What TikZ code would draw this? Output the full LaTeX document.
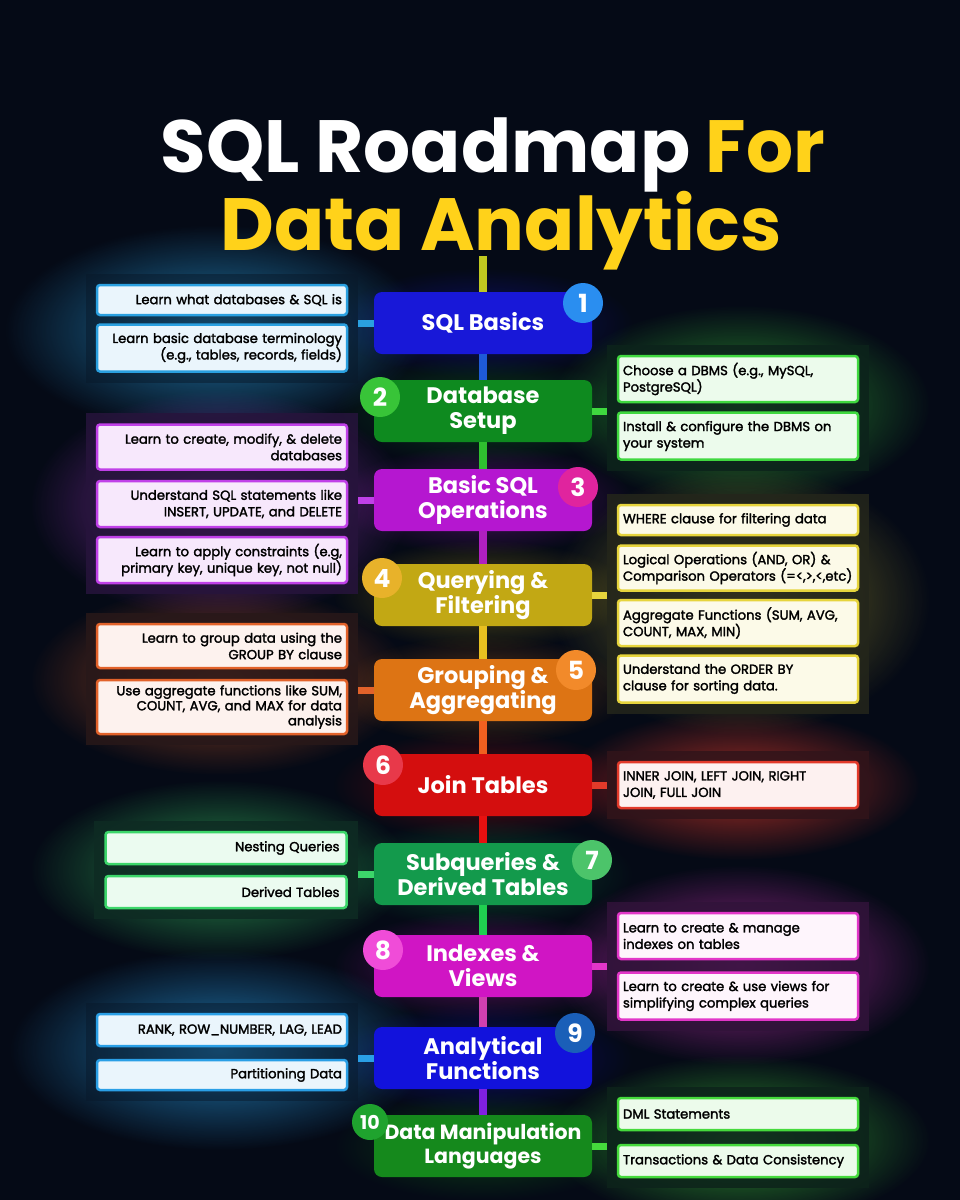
\documentclass[tikz,border=0pt]{standalone}
\usepackage{fontspec}
\setmainfont{Poppins}
\newfontfamily\sidefont{Poppins}[FakeBold=2]
\usetikzlibrary{positioning,fit,fadings,backgrounds}

% colours
\definecolor{bg}{HTML}{050A16}
\definecolor{ttl}{HTML}{FFD21A}
\definecolor{c1}{HTML}{1818D8}
\definecolor{c2}{HTML}{0E8A1F}
\definecolor{c3}{HTML}{B517D0}
\definecolor{c4}{HTML}{C2A814}
\definecolor{c5}{HTML}{DD7414}
\definecolor{c6}{HTML}{D40E0E}
\definecolor{c7}{HTML}{139A4C}
\definecolor{c8}{HTML}{D015C4}
\definecolor{c9}{HTML}{1212DC}
\definecolor{c10}{HTML}{15891C}
\definecolor{n1}{HTML}{2A8EF0}
\definecolor{n2}{HTML}{38C438}
\definecolor{n3}{HTML}{E0249E}
\definecolor{n4}{HTML}{E8B22A}
\definecolor{n5}{HTML}{F28A2A}
\definecolor{n6}{HTML}{E8394A}
\definecolor{n7}{HTML}{4CC46A}
\definecolor{n8}{HTML}{F04CD8}
\definecolor{n9}{HTML}{1A5FB8}
\definecolor{n10}{HTML}{1FA32E}
\definecolor{e1}{HTML}{2AA0E0}
\definecolor{e2}{HTML}{3FD83F}
\definecolor{e3}{HTML}{C040E8}
\definecolor{e4}{HTML}{E6D43C}
\definecolor{e5}{HTML}{E2622A}
\definecolor{e6}{HTML}{E23A2A}
\definecolor{e7}{HTML}{3CD66A}
\definecolor{e8}{HTML}{E236C8}
\definecolor{e9}{HTML}{2A9FE6}
\definecolor{e10}{HTML}{45DA3C}
\definecolor{s0}{HTML}{C0C820}
\definecolor{s1}{HTML}{1E5AD8}
\definecolor{s2}{HTML}{2FC02F}
\definecolor{s3}{HTML}{B020C0}
\definecolor{s4}{HTML}{E8C020}
\definecolor{s5}{HTML}{F06020}
\definecolor{s6}{HTML}{E81010}
\definecolor{s7}{HTML}{20D050}
\definecolor{s8}{HTML}{D040B0}
\definecolor{s9}{HTML}{8020E0}

\tikzfading[name=glowfade, inner color=transparent!10, outer color=transparent!100]

\tikzset{
  mainbox/.style={rounded corners=8pt, minimum width=218pt, minimum height=62pt,
    inner sep=0pt, text=white, align=center,
    font=\bfseries\fontsize{22.5}{25}\selectfont},
  numdot/.style={circle, minimum size=40pt, inner sep=0pt, text=white,
    font=\bfseries\fontsize{25}{25}\selectfont},
  sidebox/.style={rounded corners=3pt, line width=2.5pt, inner ysep=2pt,
    text=black, font=\sidefont\fontsize{13.2}{16.5}\selectfont},
  lbox/.style={sidebox, text width=240pt, inner xsep=5pt, align=right},
  rbox/.style={sidebox, text width=230pt, inner xsep=5pt, align=left},
  panel/.style={inner sep=10pt},
  spine/.style={line width=8pt},
  stub/.style={line width=7pt},
  glow/.style={path fading=glowfade}
}

\begin{document}
\begin{tikzpicture}[x=1pt,y=-1pt]
\useasboundingbox (0,0) rectangle (960,1200);
\begin{pgfonlayer}{background}
\fill[bg] (0,0) rectangle (960,1200);
% glows behind the groups
\fill[glow, e1, opacity=0.8] (215,330) ellipse (210 and 105);
\fill[glow, e2, opacity=0.7] (740,405) ellipse (190 and 100);
\fill[glow, e3, opacity=0.7] (220,505) ellipse (190 and 115);
\fill[glow, e4, opacity=0.55] (740,600) ellipse (190 and 135);
\fill[glow, e5, opacity=0.7] (220,680) ellipse (190 and 95);
\fill[glow, e6, opacity=0.8] (740,785) ellipse (180 and 75);
\fill[glow, e7, opacity=0.7] (220,870) ellipse (190 and 90);
\fill[glow, e8, opacity=0.75] (740,965) ellipse (190 and 100);
\fill[glow, e9, opacity=0.8] (220,1050) ellipse (210 and 100);
\fill[glow, e10, opacity=0.7] (740,1140) ellipse (190 and 85);
% glows round the steps
\foreach \yy/\cc in {323/c1,411/c2,500/c3,595/c4,690/c5,785/c6,874/c7,966/c8,1058/c9,1146/c10}
  \fill[glow, \cc, opacity=0.45] (483,\yy) ellipse (150 and 55);
\end{pgfonlayer}

% title
\node[anchor=base, text=white, font=\bfseries\fontsize{74}{80}\selectfont]
  (title1) at (493,172) {SQL Roadmap \textcolor{ttl}{For}};
\node[anchor=base, text=ttl, font=\bfseries\fontsize{74}{80}\selectfont]
  (title2) at (501,250) {Data Analytics};
\coordinate (top) at (483,256);

% main steps
\node[mainbox, fill=c1] (b1) at (483,323) {SQL Basics};
\node[mainbox, fill=c2] (b2) at (483,411) {Database\\Setup};
\node[mainbox, fill=c3] (b3) at (483,500) {Basic SQL\\Operations};
\node[mainbox, fill=c4] (b4) at (483,595) {Querying \&\\Filtering};
\node[mainbox, fill=c5] (b5) at (483,690) {Grouping \&\\Aggregating};
\node[mainbox, fill=c6] (b6) at (483,785) {Join Tables};
\node[mainbox, fill=c7] (b7) at (483,874) {Subqueries \&\\Derived Tables};
\node[mainbox, fill=c8] (b8) at (483,966) {Indexes \&\\Views};
\node[mainbox, fill=c9] (b9) at (483,1058) {Analytical\\Functions};
\node[mainbox, fill=c10, font=\bfseries\fontsize{20.5}{24}\selectfont] (b10) at (483,1146) {Data Manipulation\\Languages};

% left side notes
\node[lbox, draw=e1, fill=e1!10, minimum height=30pt] (l1a) at (222,300) {Learn what databases \& SQL is};
\node[lbox, draw=e1, fill=e1!10, minimum height=47pt] (l1b) at (222,348) {Learn basic database terminology\\(e.g., tables, records, fields)};
\node[lbox, draw=e3, fill=e3!12, minimum height=45pt] (l3a) at (222,447) {Learn to create, modify, \& delete\\databases};
\node[lbox, draw=e3, fill=e3!12, minimum height=46pt] (l3b) at (222,504) {Understand SQL statements like\\INSERT, UPDATE, and DELETE};
\node[lbox, draw=e3, fill=e3!12, minimum height=46pt] (l3c) at (222,560) {Learn to apply constraints (e.g,\\primary key, unique key, not null)};
\node[lbox, draw=e5, fill=e5!8, minimum height=44pt] (l5a) at (222,646) {Learn to group data using the\\GROUP BY clause};
\node[lbox, draw=e5, fill=e5!8, minimum height=54pt, font=\sidefont\fontsize{13.2}{15}\selectfont] (l5b) at (222,707) {Use aggregate functions like SUM,\\COUNT, AVG, and MAX for data\\analysis};
\node[lbox, draw=e7, fill=e7!10, text width=227pt, inner xsep=7pt, minimum height=32pt] (l7a) at (226,848) {Nesting Queries};
\node[lbox, draw=e7, fill=e7!10, text width=227pt, inner xsep=7pt, minimum height=32pt] (l7b) at (226,892) {Derived Tables};
\node[lbox, draw=e9, fill=e9!10, minimum height=32pt] (l9a) at (222,1030) {RANK, ROW\_NUMBER, LAG, LEAD};
\node[lbox, draw=e9, fill=e9!10, minimum height=30pt] (l9b) at (222,1075) {Partitioning Data};

% right side notes
\node[rbox, draw=e2, fill=e2!10, minimum height=46pt] (r2a) at (738,379) {Choose a DBMS (e.g., MySQL,\\PostgreSQL)};
\node[rbox, draw=e2, fill=e2!10, minimum height=47pt] (r2b) at (738,436) {Install \& configure the DBMS on\\your system};
\node[rbox, draw=e4, fill=e4!12, minimum height=30pt] (r4a) at (738,520) {WHERE clause for filtering data};
\node[rbox, draw=e4, fill=e4!12, minimum height=45pt] (r4b) at (738,568) {Logical Operations (AND, OR) \&\\Comparison Operators (=<,>,<,etc)};
\node[rbox, draw=e4, fill=e4!12, minimum height=46pt] (r4c) at (738,623) {Aggregate Functions (SUM, AVG,\\COUNT, MAX, MIN)};
\node[rbox, draw=e4, fill=e4!12, minimum height=47pt] (r4d) at (738,679) {Understand the ORDER BY\\clause for sorting data.};
\node[rbox, draw=e6, fill=e6!7, minimum height=46pt] (r6a) at (738,785) {INNER JOIN, LEFT JOIN, RIGHT\\JOIN, FULL JOIN};
\node[rbox, draw=e8, fill=e8!5, minimum height=46pt] (r8a) at (738,936) {Learn to create \& manage\\indexes on tables};
\node[rbox, draw=e8, fill=e8!5, minimum height=47pt] (r8b) at (738,996) {Learn to create \& use views for\\simplifying complex queries};
\node[rbox, draw=e10, fill=e10!10, minimum height=32pt] (r10a) at (738,1114) {DML Statements};
\node[rbox, draw=e10, fill=e10!10, minimum height=32pt] (r10b) at (738,1161) {Transactions \& Data Consistency};

% group panels, behind the notes
\begin{pgfonlayer}{background}
\node[panel, fill=e1!10!bg, fill opacity=0.5, fit=(l1a)(l1b)] (p1) {};
\node[panel, fill=e3!18!bg, fill opacity=0.85, fit=(l3a)(l3c)] (p3) {};
\node[panel, fill=e5!16!bg, fill opacity=0.85, fit=(l5a)(l5b)] (p5) {};
\node[panel, fill=e7!16!bg, fill opacity=0.85, fit=(l7a)(l7b)] (p7) {};
\node[panel, fill=e9!10!bg, fill opacity=0.5, fit=(l9a)(l9b)] (p9) {};
\node[panel, fill=e2!12!bg, fill opacity=0.85, fit=(r2a)(r2b)] (p2) {};
\node[panel, fill=e4!14!bg, fill opacity=0.85, fit=(r4a)(r4d)] (p4) {};
\node[panel, fill=e6!20!bg, fill opacity=0.85, fit=(r6a)] (p6) {};
\node[panel, fill=e8!20!bg, fill opacity=0.85, fit=(r8a)(r8b)] (p8) {};
\node[panel, fill=e10!12!bg, fill opacity=0.85, fit=(r10a)(r10b)] (p10) {};
\end{pgfonlayer}

% numbers
\node[numdot, fill=n1] (d1) at (583,303) {1};
\node[numdot, fill=n2] (d2) at (380,397) {2};
\node[numdot, fill=n3] (d3) at (578,487) {3};
\node[numdot, fill=n4] (d4) at (382,578) {4};
\node[numdot, fill=n5] (d5) at (576,670) {5};
\node[numdot, fill=n6] (d6) at (383,765) {6};
\node[numdot, fill=n7] (d7) at (592,860) {7};
\node[numdot, fill=n8] (d8) at (383,950) {8};
\node[numdot, fill=n9] (d9) at (575,1033) {9};
\node[numdot, fill=n10, minimum size=36pt, font=\bfseries\fontsize{19}{19}\selectfont] (d10) at (370,1122) {10};

% spine
\draw[spine, s0] (top) -- (b1.north);
\draw[spine, s1] (b1.south) -- (b2.north);
\draw[spine, s2] (b2.south) -- (b3.north);
\draw[spine, s3] (b3.south) -- (b4.north);
\draw[spine, s4] (b4.south) -- (b5.north);
\draw[spine, s5] (b5.south) -- (b6.north);
\draw[spine, s6] (b6.south) -- (b7.north);
\draw[spine, s7] (b7.south) -- (b8.north);
\draw[spine, s8] (b8.south) -- (b9.north);
\draw[spine, s9] (b9.south) -- (b10.north);

% stubs to the notes
\draw[stub, e1] (b1.west) -- (b1.west -| p1.east);
\draw[stub, e2] (b2.east) -- (b2.east -| p2.west);
\draw[stub, e3] (b3.west) -- (b3.west -| p3.east);
\draw[stub, e4] (b4.east) -- (b4.east -| p4.west);
\draw[stub, e5] (b5.west) -- (b5.west -| p5.east);
\draw[stub, e6] (b6.east) -- (b6.east -| p6.west);
\draw[stub, e7] (b7.west) -- (b7.west -| p7.east);
\draw[stub, e8] (b8.east) -- (b8.east -| p8.west);
\draw[stub, e9] (b9.west) -- (b9.west -| p9.east);
\draw[stub, e10] (b10.east) -- (b10.east -| p10.west);
\end{tikzpicture}
\end{document}
